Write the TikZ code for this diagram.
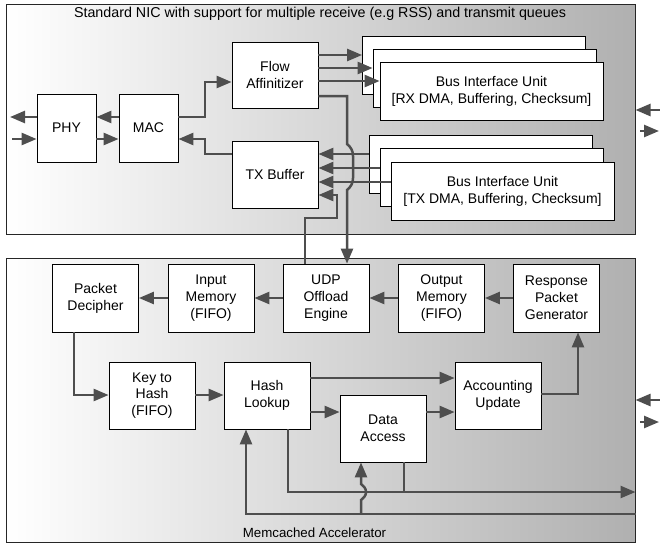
\documentclass[tikz,border=0pt]{standalone}
\usepackage{fontspec}
\setmainfont{Liberation Sans}
\usetikzlibrary{arrows.meta}
\definecolor{lc}{RGB}{78,78,78}
\begin{document}
\begin{tikzpicture}[x=1pt,y=-1pt,
  box/.style={draw=black, line width=0.8pt, fill=white, align=center, inner sep=0pt, font=\fontsize{14}{16.8}\selectfont},
  sbox/.style={box, minimum width=86pt, minimum height=67pt},
  pbox/.style={box, minimum width=59pt, minimum height=68pt},
  bbox/.style={box, minimum width=223pt, minimum height=58pt},
  cont/.style={draw=black!85, line width=1pt, left color=white, right color=black!31, inner sep=0pt},
  conn/.style={draw=lc, line width=2.5pt, -{Triangle[length=15pt,width=12pt]}},
  plain/.style={draw=lc, line width=2.5pt},
  lbl/.style={font=\fontsize{13.3}{16}\selectfont, inner sep=1pt}
]
\useasboundingbox (0,0) rectangle (660,544);
% containers
\node[cont, minimum width=629pt, minimum height=230pt] (nic) at (320.5,119) {};
\node[cont, minimum width=629pt, minimum height=284pt] (mc) at (320.5,400) {};
\node[lbl, font=\fontsize{14.3}{16}\selectfont] (niclbl) at (320,14) {Standard NIC with support for multiple receive (e.g RSS) and transmit queues};
\node[lbl] (mclbl) at (314.5,533) {Memcached Accelerator};
% NIC nodes
\node[pbox] (phy) at (66.5,128) {PHY};
\node[pbox] (mac) at (148.5,128) {MAC};
\node[sbox, minimum height=66pt] (flow) at (275,75) {Flow\\Affinitizer};
\node[sbox] (tx) at (275,174.5) {TX Buffer};
\node[bbox] (rxa) at (474,65) {};
\node[bbox] (rxb) at (484.5,78) {};
\node[bbox] (rxc) at (491.5,91) {Bus Interface Unit\\{[}RX DMA, Buffering, Checksum]};
\node[bbox] (txa) at (480.5,164) {};
\node[bbox] (txb) at (491.5,177.5) {};
\node[bbox] (txc) at (502.5,191) {Bus Interface Unit\\{[}TX DMA, Buffering, Checksum]};
% accelerator nodes
\node[sbox, minimum height=68pt] (pd) at (95.5,298) {Packet\\Decipher};
\node[sbox, minimum height=68pt] (im) at (211,298) {Input\\Memory\\(FIFO)};
\node[sbox, minimum height=68pt] (udp) at (326,298) {UDP\\Offload\\Engine};
\node[sbox, minimum height=68pt] (om) at (441.5,298) {Output\\Memory\\(FIFO)};
\node[sbox, minimum height=68pt] (rpg) at (556.5,298) {Response\\Packet\\Generator};
\node[sbox] (key) at (152,395.5) {Key to\\Hash\\(FIFO)};
\node[sbox] (hash) at (267,395.5) {Hash\\Lookup};
\node[sbox] (acc) at (498,395.5) {Accounting\\Update};
\node[sbox] (da) at (383,428.5) {Data\\Access};
% external coordinates
\coordinate (phyout) at (10,117);
\coordinate (phyin) at (12,139);
\coordinate (nicin) at (660,110);
\coordinate (nicoutA) at (640,131);
\coordinate (nicoutB) at (659,131);
\coordinate (mcin) at (660,400);
\coordinate (mcoutA) at (640,422);
\coordinate (mcoutB) at (659,422);
% NIC connectors
\draw[conn] (phy.west |- 0,117) -- (phyout);
\draw[conn] (phyin) -- (phy.west |- 0,139);
\draw[conn] (mac.west |- 0,117) -- (phy.east |- 0,117);
\draw[conn] (phy.east |- 0,139) -- (mac.west |- 0,139);
\draw[conn] (mac.east |- 0,117) -- (205,117) -- (205,82) -- (flow.west |- 0,82);
\draw[conn] (tx.west |- 0,154) -- (205,154) -- (205,139) -- (mac.east |- 0,139);
\draw[conn] (flow.east |- 0,55) -- (rxa.west |- 0,55);
\draw[conn] (flow.east |- 0,68) -- (rxb.west |- 0,68);
\draw[conn] (flow.east |- 0,81) -- (rxc.west |- 0,81);
\draw[conn] (txa.west |- 0,154) -- (tx.east |- 0,154);
\draw[conn] (txb.west |- 0,168) -- (tx.east |- 0,168);
\draw[conn] (txc.west |- 0,182) -- (tx.east |- 0,182);
\draw[conn] (flow.east |- 0,96) -- (347,96) -- (347,144) to[out=-40,in=90] (353,156) -- (353,178) to[out=-90,in=40] (347,190) -- (udp.north -| 347,0);
\draw[conn] (udp.north -| 305,0) -- (305,218) -- (337,218) -- (337,195) -- (tx.east |- 0,195);
\draw[conn] (nicin) -- (nic.east |- 0,110);
\draw[conn] (nicoutA) -- (nicoutB);
% accelerator connectors
\draw[conn] (im.west) -- (pd.east);
\draw[conn] (udp.west) -- (im.east);
\draw[conn] (om.west) -- (udp.east);
\draw[conn] (rpg.west) -- (om.east);
\draw[conn] (pd.south -| 74,0) -- (74,395) -- (key.west |- 0,395);
\draw[conn] (key.east |- 0,395) -- (hash.west |- 0,395);
\draw[conn] (hash.east |- 0,378) -- (acc.west |- 0,378);
\draw[conn] (hash.east |- 0,412) -- (da.west |- 0,412);
\draw[conn] (da.east |- 0,412) -- (acc.west |- 0,412);
\draw[conn] (acc.east |- 0,394) -- (578,394) -- (rpg.south -| 578,0);
\draw[plain] (da.south -| 404,0) -- (404,492);
\draw[conn] (hash.south -| 288,0) -- (288,492) -- (mc.east |- 0,492);
\draw[conn] (mc.east |- 0,514) -- (246,514) -- (hash.south -| 246,0);
\draw[conn] (361,514) -- (361,500) to[out=40,in=-90] (366,492) to[out=90,in=-40] (361,484) -- (da.south -| 361,0);
\draw[conn] (mcin) -- (mc.east |- 0,400);
\draw[conn] (mcoutA) -- (mcoutB);
\end{tikzpicture}
\end{document}
